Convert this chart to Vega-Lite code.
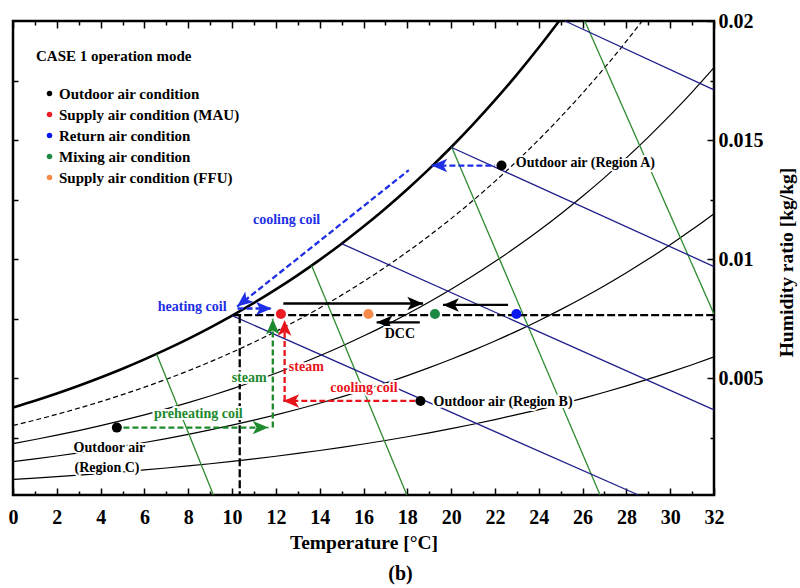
{
  "$schema": "https://vega.github.io/schema/vega-lite/v6.json",
  "width": 701,
  "height": 474,
  "autosize": {"type": "none"},
  "padding": {"left": 13, "top": 21, "right": 86, "bottom": 93},
  "background": "white",
  "title": {"text": "(b)", "orient": "bottom", "anchor": "middle", "dx": 37, "offset": 12, "font": "Liberation Serif", "fontSize": 20, "fontWeight": "bold", "color": "black"},
  "config": {
    "view": {"stroke": "black", "strokeWidth": 2.5},
    "axis": {
      "domain": false, "grid": false, "tickColor": "black", "tickWidth": 1.5,
      "labelFont": "Liberation Serif", "labelFontSize": 20, "labelFontWeight": "bold", "labelColor": "black",
      "titleFont": "Liberation Serif", "titleFontSize": 19.5, "titleFontWeight": "bold", "titleColor": "black"
    }
  },
  "datasets": {
    "rh": [
      {"rh":100,"T":0,"W":0.003775},{"rh":100,"T":1,"W":0.00406},{"rh":100,"T":2,"W":0.004364},{"rh":100,"T":3,"W":0.004689},
      {"rh":100,"T":4,"W":0.005034},{"rh":100,"T":5,"W":0.005403},{"rh":100,"T":6,"W":0.005796},{"rh":100,"T":7,"W":0.006213},
      {"rh":100,"T":8,"W":0.006657},{"rh":100,"T":9,"W":0.007129},{"rh":100,"T":10,"W":0.007632},{"rh":100,"T":11,"W":0.008166},
      {"rh":100,"T":12,"W":0.008732},{"rh":100,"T":13,"W":0.009334},{"rh":100,"T":14,"W":0.009973},{"rh":100,"T":15,"W":0.010651},
      {"rh":100,"T":16,"W":0.011369},{"rh":100,"T":17,"W":0.012131},{"rh":100,"T":18,"W":0.012938},{"rh":100,"T":19,"W":0.013794},
      {"rh":100,"T":20,"W":0.014699},{"rh":100,"T":21,"W":0.015659},{"rh":100,"T":22,"W":0.016674},{"rh":100,"T":23,"W":0.017749},
      {"rh":100,"T":24,"W":0.018885},{"rh":100,"T":24.93,"W":0.02},
      {"rh":80,"T":0,"W":0.003017},{"rh":80,"T":1,"W":0.003244},{"rh":80,"T":2,"W":0.003487},{"rh":80,"T":3,"W":0.003745},
      {"rh":80,"T":4,"W":0.004021},{"rh":80,"T":5,"W":0.004315},{"rh":80,"T":6,"W":0.004628},{"rh":80,"T":7,"W":0.00496},
      {"rh":80,"T":8,"W":0.005314},{"rh":80,"T":9,"W":0.00569},{"rh":80,"T":10,"W":0.006091},{"rh":80,"T":11,"W":0.006516},
      {"rh":80,"T":12,"W":0.006966},{"rh":80,"T":13,"W":0.007445},{"rh":80,"T":14,"W":0.007953},{"rh":80,"T":15,"W":0.008491},
      {"rh":80,"T":16,"W":0.009062},{"rh":80,"T":17,"W":0.009667},{"rh":80,"T":18,"W":0.010308},{"rh":80,"T":19,"W":0.010986},
      {"rh":80,"T":20,"W":0.011704},{"rh":80,"T":21,"W":0.012464},{"rh":80,"T":22,"W":0.013268},{"rh":80,"T":23,"W":0.014118},
      {"rh":80,"T":24,"W":0.015017},{"rh":80,"T":25,"W":0.015967},{"rh":80,"T":26,"W":0.016971},{"rh":80,"T":27,"W":0.018031},
      {"rh":80,"T":28,"W":0.019151},{"rh":80,"T":28.72,"W":0.02},
      {"rh":60,"T":0,"W":0.00226},{"rh":60,"T":1,"W":0.00243},{"rh":60,"T":2,"W":0.002611},{"rh":60,"T":3,"W":0.002805},
      {"rh":60,"T":4,"W":0.003011},{"rh":60,"T":5,"W":0.003231},{"rh":60,"T":6,"W":0.003464},{"rh":60,"T":7,"W":0.003713},
      {"rh":60,"T":8,"W":0.003977},{"rh":60,"T":9,"W":0.004258},{"rh":60,"T":10,"W":0.004557},{"rh":60,"T":11,"W":0.004874},
      {"rh":60,"T":12,"W":0.00521},{"rh":60,"T":13,"W":0.005567},{"rh":60,"T":14,"W":0.005946},{"rh":60,"T":15,"W":0.006347},
      {"rh":60,"T":16,"W":0.006772},{"rh":60,"T":17,"W":0.007222},{"rh":60,"T":18,"W":0.007699},{"rh":60,"T":19,"W":0.008204},
      {"rh":60,"T":20,"W":0.008737},{"rh":60,"T":21,"W":0.009302},{"rh":60,"T":22,"W":0.009898},{"rh":60,"T":23,"W":0.010529},
      {"rh":60,"T":24,"W":0.011195},{"rh":60,"T":25,"W":0.011899},{"rh":60,"T":26,"W":0.012642},{"rh":60,"T":27,"W":0.013426},
      {"rh":60,"T":28,"W":0.014253},{"rh":60,"T":29,"W":0.015126},{"rh":60,"T":30,"W":0.016046},{"rh":60,"T":31,"W":0.017016},
      {"rh":60,"T":32,"W":0.018039},
      {"rh":40,"T":0,"W":0.001505},{"rh":40,"T":1,"W":0.001618},{"rh":40,"T":2,"W":0.001738},{"rh":40,"T":3,"W":0.001867},
      {"rh":40,"T":4,"W":0.002004},{"rh":40,"T":5,"W":0.00215},{"rh":40,"T":6,"W":0.002305},{"rh":40,"T":7,"W":0.00247},
      {"rh":40,"T":8,"W":0.002646},{"rh":40,"T":9,"W":0.002832},{"rh":40,"T":10,"W":0.003031},{"rh":40,"T":11,"W":0.003241},
      {"rh":40,"T":12,"W":0.003464},{"rh":40,"T":13,"W":0.0037},{"rh":40,"T":14,"W":0.003951},{"rh":40,"T":15,"W":0.004217},
      {"rh":40,"T":16,"W":0.004498},{"rh":40,"T":17,"W":0.004796},{"rh":40,"T":18,"W":0.005111},{"rh":40,"T":19,"W":0.005445},
      {"rh":40,"T":20,"W":0.005798},{"rh":40,"T":21,"W":0.00617},{"rh":40,"T":22,"W":0.006564},{"rh":40,"T":23,"W":0.00698},
      {"rh":40,"T":24,"W":0.007419},{"rh":40,"T":25,"W":0.007882},{"rh":40,"T":26,"W":0.008371},{"rh":40,"T":27,"W":0.008887},
      {"rh":40,"T":28,"W":0.00943},{"rh":40,"T":29,"W":0.010003},{"rh":40,"T":30,"W":0.010606},{"rh":40,"T":31,"W":0.011242},
      {"rh":40,"T":32,"W":0.011911},
      {"rh":20,"T":0,"W":0.000751},{"rh":20,"T":1,"W":0.000808},{"rh":20,"T":2,"W":0.000868},{"rh":20,"T":3,"W":0.000932},
      {"rh":20,"T":4,"W":0.001},{"rh":20,"T":5,"W":0.001073},{"rh":20,"T":6,"W":0.001151},{"rh":20,"T":7,"W":0.001233},
      {"rh":20,"T":8,"W":0.00132},{"rh":20,"T":9,"W":0.001413},{"rh":20,"T":10,"W":0.001512},{"rh":20,"T":11,"W":0.001616},
      {"rh":20,"T":12,"W":0.001727},{"rh":20,"T":13,"W":0.001845},{"rh":20,"T":14,"W":0.001969},{"rh":20,"T":15,"W":0.002101},
      {"rh":20,"T":16,"W":0.002241},{"rh":20,"T":17,"W":0.002389},{"rh":20,"T":18,"W":0.002545},{"rh":20,"T":19,"W":0.002711},
      {"rh":20,"T":20,"W":0.002885},{"rh":20,"T":21,"W":0.00307},{"rh":20,"T":22,"W":0.003265},{"rh":20,"T":23,"W":0.003471},
      {"rh":20,"T":24,"W":0.003687},{"rh":20,"T":25,"W":0.003916},{"rh":20,"T":26,"W":0.004158},{"rh":20,"T":27,"W":0.004412},
      {"rh":20,"T":28,"W":0.00468},{"rh":20,"T":29,"W":0.004962},{"rh":20,"T":30,"W":0.005258},{"rh":20,"T":31,"W":0.00557},
      {"rh":20,"T":32,"W":0.005899}
    ],
    "volume": [
      {"v":0.8,"T":6.56,"W":0.00601},{"v":0.8,"T":9.15,"W":0.0001},
      {"v":0.825,"T":13.63,"W":0.00974},{"v":0.825,"T":17.98,"W":0.0001},
      {"v":0.85,"T":20.02,"W":0.01472},{"v":0.85,"T":26.8,"W":0.0001},
      {"v":0.875,"T":26.1,"W":0.02},{"v":0.875,"T":32,"W":0.0077}
    ],
    "wetbulb": [
      {"twb":10,"T":10,"W":0.007632},{"twb":10,"T":28.55,"W":0.0001},
      {"twb":15,"T":15,"W":0.010651},{"twb":15,"T":32,"W":0.00367},
      {"twb":20,"T":20,"W":0.014699},{"twb":20,"T":32,"W":0.00969},
      {"twb":25,"T":25.2,"W":0.02},{"twb":25,"T":32,"W":0.01711}
    ],
    "process": [
      {"step":"supply humidity level","region":"ref","T":10.05,"W":0.00765},{"step":"supply humidity level","region":"ref","T":32,"W":0.00765},
      {"step":"dew point","region":"ref","T":10.35,"W":0.00765},{"step":"dew point","region":"ref","T":10.35,"W":0.0001},
      {"step":"MAU to DCC","region":"DCC","T":12.34,"W":0.00814},{"step":"MAU to DCC","region":"DCC","T":18.72,"W":0.00814},
      {"step":"return to DCC","region":"DCC","T":22.6,"W":0.00808},{"step":"return to DCC","region":"DCC","T":19.63,"W":0.00808},
      {"step":"DCC outlet","region":"DCC","T":18.57,"W":0.00735},{"step":"DCC outlet","region":"DCC","T":16.6,"W":0.00735},
      {"step":"A sensible cooling","region":"A","T":22.0,"W":0.01393},{"step":"A sensible cooling","region":"A","T":19.1,"W":0.01393},
      {"step":"A cooling coil","region":"A","T":18.07,"W":0.01374},{"step":"A cooling coil","region":"A","T":10.23,"W":0.00801},
      {"step":"A heating coil","region":"A","T":10.25,"W":0.00793},{"step":"A heating coil","region":"A","T":11.81,"W":0.00793},
      {"step":"C preheating coil","region":"C","T":5.04,"W":0.00293},{"step":"C preheating coil","region":"C","T":11.66,"W":0.00293},
      {"step":"C steam","region":"C","T":11.86,"W":0.00293},{"step":"C steam","region":"C","T":11.86,"W":0.0075},
      {"step":"B cooling coil","region":"B","T":18.4,"W":0.00405},{"step":"B cooling coil","region":"B","T":12.34,"W":0.00405},
      {"step":"B steam","region":"B","T":12.4,"W":0.00405},{"step":"B steam","region":"B","T":12.4,"W":0.00745}
    ],
    "heads": [
      {"step":"MAU to DCC","region":"DCC","heading":0,"T":18.72,"W":0.00814},
      {"step":"return to DCC","region":"DCC","heading":180,"T":19.63,"W":0.00808},
      {"step":"DCC outlet","region":"DCC","heading":180,"T":16.6,"W":0.00735},
      {"step":"A sensible cooling","region":"A","heading":180,"T":19.1,"W":0.01393},
      {"step":"A cooling coil","region":"A","heading":141.5,"T":10.23,"W":0.00801},
      {"step":"A heating coil","region":"A","heading":0,"T":11.81,"W":0.00793},
      {"step":"C preheating coil","region":"C","heading":0,"T":11.66,"W":0.00293},
      {"step":"C steam","region":"C","heading":270,"T":11.86,"W":0.0075},
      {"step":"B cooling coil","region":"B","heading":180,"T":12.34,"W":0.00405},
      {"step":"B steam","region":"B","heading":270,"T":12.4,"W":0.00745}
    ],
    "notes": [
      {"note":"Outdoor air (Region A)","region":"outdoor","T":26.13,"W":0.01403},
      {"note":"Outdoor air (Region B)","region":"outdoor","T":22.37,"W":0.00402},
      {"note":"Outdoor air","region":"outdoor","T":4.4,"W":0.00206},
      {"note":"(Region C)","region":"outdoor","T":4.29,"W":0.00122},
      {"note":"DCC","region":"DCC","T":17.66,"W":0.00686},
      {"note":"cooling coil","region":"A","T":12.49,"W":0.01165},
      {"note":"heating coil","region":"A","T":8.18,"W":0.00798},
      {"note":"steam","region":"C","T":10.78,"W":0.005},
      {"note":"preheating coil","region":"C","T":8.46,"W":0.00349},
      {"note":"steam","region":"B","T":13.39,"W":0.00546},
      {"note":"cooling coil","region":"B","T":16.02,"W":0.00458}
    ],
    "states": [
      {"condition":"Outdoor air condition","T":22.3,"W":0.01393},
      {"condition":"Outdoor air condition","T":18.6,"W":0.00405},
      {"condition":"Outdoor air condition","T":4.74,"W":0.00293},
      {"condition":"Supply air condition (MAU)","T":12.23,"W":0.0077},
      {"condition":"Return air condition","T":22.98,"W":0.0077},
      {"condition":"Mixing air condition","T":19.26,"W":0.0077},
      {"condition":"Supply air condition (FFU)","T":16.22,"W":0.0077}
    ]
  },
  "resolve": {"axis": {"x": "independent", "y": "independent"}},
  "encoding": {
    "x": {"field": "T", "type": "quantitative", "scale": {"domain": [0, 32], "nice": false}, "axis": null},
    "y": {"field": "W", "type": "quantitative", "scale": {"domain": [0.0001, 0.02], "nice": false, "zero": false}, "axis": null}
  },
  "layer": [
    {
      "data": {"name": "rh"},
      "transform": [{"filter": "datum.rh == 100"}],
      "mark": {"type": "line", "color": "black", "strokeWidth": 2.6, "interpolate": "monotone"},
      "encoding": {
        "x": {"field": "T", "type": "quantitative", "scale": {"domain": [0, 32], "nice": false},
          "axis": {"orient": "bottom", "values": [0,2,4,6,8,10,12,14,16,18,20,22,24,26,28,30,32], "tickSize": -7, "labelPadding": 19, "labelBaseline": "top", "labelFlush": false, "labelOverlap": false,
            "title": "Temperature [°C]", "titleY": 53, "titleBaseline": "alphabetic"}},
        "y": {"field": "W", "type": "quantitative", "scale": {"domain": [0.0001, 0.02], "nice": false, "zero": false},
          "axis": {"orient": "right", "values": [0.005, 0.01, 0.015, 0.02], "format": "~g", "tickSize": -7, "labelPadding": 11, "labelAlign": "left", "labelBaseline": "middle", "labelFlush": false, "labelOverlap": false,
            "title": "Humidity ratio [kg/kg]", "titleAngle": 270, "titleX": 78, "titleY": 241, "titleBaseline": "alphabetic", "titleAlign": "center"}}
      }
    },
    {
      "data": {"name": "rh"},
      "transform": [{"filter": "datum.rh == 80"}],
      "mark": {"type": "line", "color": "black", "strokeWidth": 1.2, "strokeDash": [5, 3], "interpolate": "monotone"},
      "encoding": {
        "x": {"field": "T", "type": "quantitative", "scale": {"domain": [0, 32], "nice": false},
          "axis": {"orient": "bottom", "values": [1,3,5,7,9,11,13,15,17,19,21,23,25,27,29,31], "tickSize": -4, "labels": false, "title": null}},
        "y": {"field": "W", "type": "quantitative", "scale": {"domain": [0.0001, 0.02], "nice": false, "zero": false},
          "axis": {"orient": "right", "values": [0.0025, 0.0075, 0.0125, 0.0175], "tickSize": -4, "labels": false, "title": null}}
      }
    },
    {
      "data": {"name": "rh"},
      "transform": [{"filter": "datum.rh < 80"}],
      "mark": {"type": "line", "color": "black", "strokeWidth": 1.2, "interpolate": "monotone"},
      "encoding": {
        "detail": {"field": "rh"},
        "x": {"field": "T", "type": "quantitative", "scale": {"domain": [0, 32], "nice": false},
          "axis": {"orient": "top", "values": [0,2,4,6,8,10,12,14,16,18,20,22,24,26,28,30,32], "tickSize": -7, "labels": false, "title": null}},
        "y": {"field": "W", "type": "quantitative", "scale": {"domain": [0.0001, 0.02], "nice": false, "zero": false},
          "axis": {"orient": "left", "values": [0.0025, 0.005, 0.0075, 0.01, 0.0125, 0.015, 0.0175], "tickSize": -5, "labels": false, "title": null}}
      }
    },
    {
      "data": {"name": "volume"},
      "mark": {"type": "line", "color": "#2e8b2e", "strokeWidth": 1.3},
      "encoding": {
        "detail": {"field": "v"},
        "x": {"field": "T", "type": "quantitative", "scale": {"domain": [0, 32], "nice": false},
          "axis": {"orient": "top", "values": [1,3,5,7,9,11,13,15,17,19,21,23,25,27,29,31], "tickSize": -4, "labels": false, "title": null}}
      }
    },
    {
      "data": {"name": "wetbulb"},
      "mark": {"type": "line", "color": "#20208c", "strokeWidth": 1.3},
      "encoding": {"detail": {"field": "twb"}}
    },
    {
      "data": {"name": "process"},
      "mark": {"type": "line", "strokeWidth": 2.3},
      "encoding": {
        "detail": {"field": "step"},
        "stroke": {"field": "region", "type": "nominal", "legend": null,
          "scale": {"domain": ["DCC", "ref", "A", "B", "C", "outdoor"], "range": ["#000000", "#000000", "#1f2fe6", "#e8141c", "#1d8a2c", "#000000"]}},
        "strokeDash": {"field": "region", "type": "nominal", "legend": null,
          "scale": {"domain": ["DCC", "ref", "A", "B", "C"], "range": [[1, 0], [8, 3], [6, 3], [6, 3], [6, 3]]}}
      }
    },
    {
      "data": {"name": "heads"},
      "mark": {"type": "point", "shape": "M0,0L-2,-0.85L-1.5,0L-2,0.85Z", "filled": true, "size": 250, "opacity": 1, "strokeWidth": 0},
      "encoding": {
        "angle": {"field": "heading", "type": "quantitative", "scale": {"domain": [0, 360], "range": [0, 360]}},
        "fill": {"field": "region", "type": "nominal", "legend": null,
          "scale": {"domain": ["DCC", "ref", "A", "B", "C", "outdoor"], "range": ["#000000", "#000000", "#1f2fe6", "#e8141c", "#1d8a2c", "#000000"]}}
      }
    },
    {
      "data": {"name": "notes"},
      "mark": {"type": "text", "font": "Liberation Serif", "fontSize": 14, "fontWeight": "bold", "align": "center", "baseline": "middle", "fill": "white", "stroke": "white", "strokeWidth": 4, "strokeJoin": "round"},
      "encoding": {"text": {"field": "note"}}
    },
    {
      "data": {"name": "notes"},
      "mark": {"type": "text", "font": "Liberation Serif", "fontSize": 14, "fontWeight": "bold", "align": "center", "baseline": "middle"},
      "encoding": {
        "text": {"field": "note"},
        "fill": {"field": "region", "type": "nominal", "legend": null,
          "scale": {"domain": ["DCC", "ref", "A", "B", "C", "outdoor"], "range": ["#000000", "#000000", "#1f2fe6", "#e8141c", "#1d8a2c", "#000000"]}}
      }
    },
    {
      "data": {"name": "states"},
      "mark": {"type": "point", "shape": "circle", "filled": true, "size": 100, "opacity": 1, "strokeWidth": 0},
      "encoding": {
        "color": {"field": "condition", "type": "nominal",
          "scale": {"domain": ["Outdoor air condition", "Supply air condition (MAU)", "Return air condition", "Mixing air condition", "Supply air condition (FFU)"],
                    "range": ["#000000", "#ee1c24", "#0a18f0", "#1d8a44", "#f58a4a"]},
          "legend": {"orient": "none", "legendX": 23, "legendY": 28, "padding": 0,
            "title": "CASE 1 operation mode", "titleFont": "Liberation Serif", "titleFontSize": 15, "titleFontWeight": "bold", "titleColor": "black", "titlePadding": 22,
            "labelFont": "Liberation Serif", "labelFontSize": 15, "labelFontWeight": "bold", "labelLimit": 400,
            "symbolType": "circle", "symbolSize": 30, "symbolStrokeWidth": 0, "symbolOffset": 6, "labelOffset": 2, "rowPadding": 5,
            "encode": {"labels": {"update": {"fill": {"signal": "scale('color', datum.value)"}}}}}
        }
      }
    }
  ]
}
